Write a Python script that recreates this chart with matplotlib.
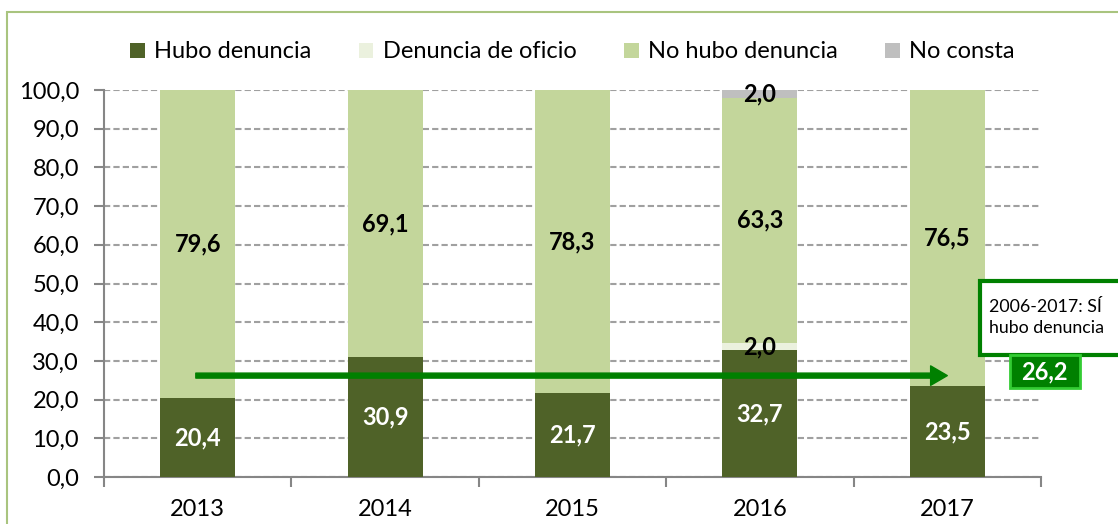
import matplotlib.pyplot as plt
from matplotlib.patches import Patch, Rectangle

plt.rcParams["font.family"] = ["Lato", "DejaVu Sans"]

years = ["2013", "2014", "2015", "2016", "2017"]
hubo = [20.4, 30.9, 21.7, 32.7, 23.5]
oficio = [0.0, 0.0, 0.0, 2.0, 0.0]
no_hubo = [79.6, 69.1, 78.3, 63.3, 76.5]
no_consta = [0.0, 0.0, 0.0, 2.0, 0.0]
media = 26.2
media_label = "2006-2017: SÍ\nhubo denuncia"

series = [
    ("Hubo denuncia", hubo, "#4F6228", "white"),
    ("Denuncia de oficio", oficio, "#EBF1DE", "black"),
    ("No hubo denuncia", no_hubo, "#C3D69B", "black"),
    ("No consta", no_consta, "#BFBFBF", "black"),
]


def fmt(v):
    return f"{v:.1f}".replace(".", ",")


fig = plt.figure(figsize=(11.18, 5.24), dpi=100)
W, H = 1118, 524
ax = fig.add_axes([104 / W, (H - 477) / H, (1041 - 104) / W, (477 - 90) / H])

# outer chart frame
fig.patches.append(Rectangle((7 / W, -0.05), 1.2, (H - 12) / H + 0.05,
                             transform=fig.transFigure, fill=False,
                             edgecolor="#A9C47F", lw=1.5))

x = list(range(len(years)))
bottom = [0.0] * len(years)
for name, vals, color, tcolor in series:
    ax.bar(x, vals, 0.4, bottom=bottom, color=color, label=name, zorder=3)
    for i, v in enumerate(vals):
        if v > 0:
            ax.text(i, bottom[i] + v / 2, fmt(v), ha="center", va="center",
                    fontsize=17, fontweight="bold", color=tcolor, zorder=5)
    bottom = [b + v for b, v in zip(bottom, vals)]

ax.set_xlim(-0.5, 4.5)
ax.set_ylim(0, 100)
ax.set_yticks(range(0, 101, 10))
ax.set_yticklabels([fmt(v) for v in range(0, 101, 10)], fontsize=17)
ax.set_xticks(x)
ax.set_xticklabels(years, fontsize=17)
ax.set_xticks([i - 0.5 for i in range(len(years) + 1)], minor=True)
ax.tick_params(axis="x", which="major", length=0, pad=16)
ax.tick_params(axis="x", which="minor", length=7, width=1.5, color="#868686")
ax.tick_params(axis="y", length=7, width=1.5, color="#868686", pad=11)
for s in ["top", "right"]:
    ax.spines[s].set_visible(False)
for s in ["left", "bottom"]:
    ax.spines[s].set_color("#868686")
    ax.spines[s].set_linewidth(1.5)
ax.yaxis.grid(True, color="#A0A0A0", lw=1.5, ls=(0, (3, 1.5)), zorder=0)
ax.set_axisbelow(True)

# trend arrow
ax.annotate("", xy=(4.0, media), xytext=(-0.01, media),
            arrowprops=dict(arrowstyle="simple,head_length=12,head_width=14,tail_width=3.6",
                            mutation_scale=1, color="#008000", shrinkA=0, shrinkB=0),
            zorder=6)

# annotation boxes
ax.add_patch(Rectangle((4.175, 31.5), 1.0, 19.1, clip_on=False, facecolor="white",
                       edgecolor="#008000", lw=3, zorder=7))
ax.text(4.225, 41.2, media_label, fontsize=12.8, va="center", ha="left",
        linespacing=1.45, clip_on=False, zorder=8)
ax.add_patch(Rectangle((4.335, 23.0), 0.373, 8.5, clip_on=False, facecolor="#008000",
                       edgecolor="#33CC33", lw=2, zorder=7))
ax.text(4.52, 27.2, fmt(media), fontsize=17, fontweight="bold", color="white",
        ha="center", va="center", clip_on=False, zorder=8)

handles = [Patch(facecolor=c, label=n) for n, _, c, _ in series]
fig.legend(handles=handles, loc="center", bbox_to_anchor=(0.512, (H - 52) / H),
           ncol=4, frameon=False, fontsize=17, handlelength=0.62, handleheight=0.62,
           handletextpad=0.4, columnspacing=2.0)

fig.savefig("out.png", dpi=100)
